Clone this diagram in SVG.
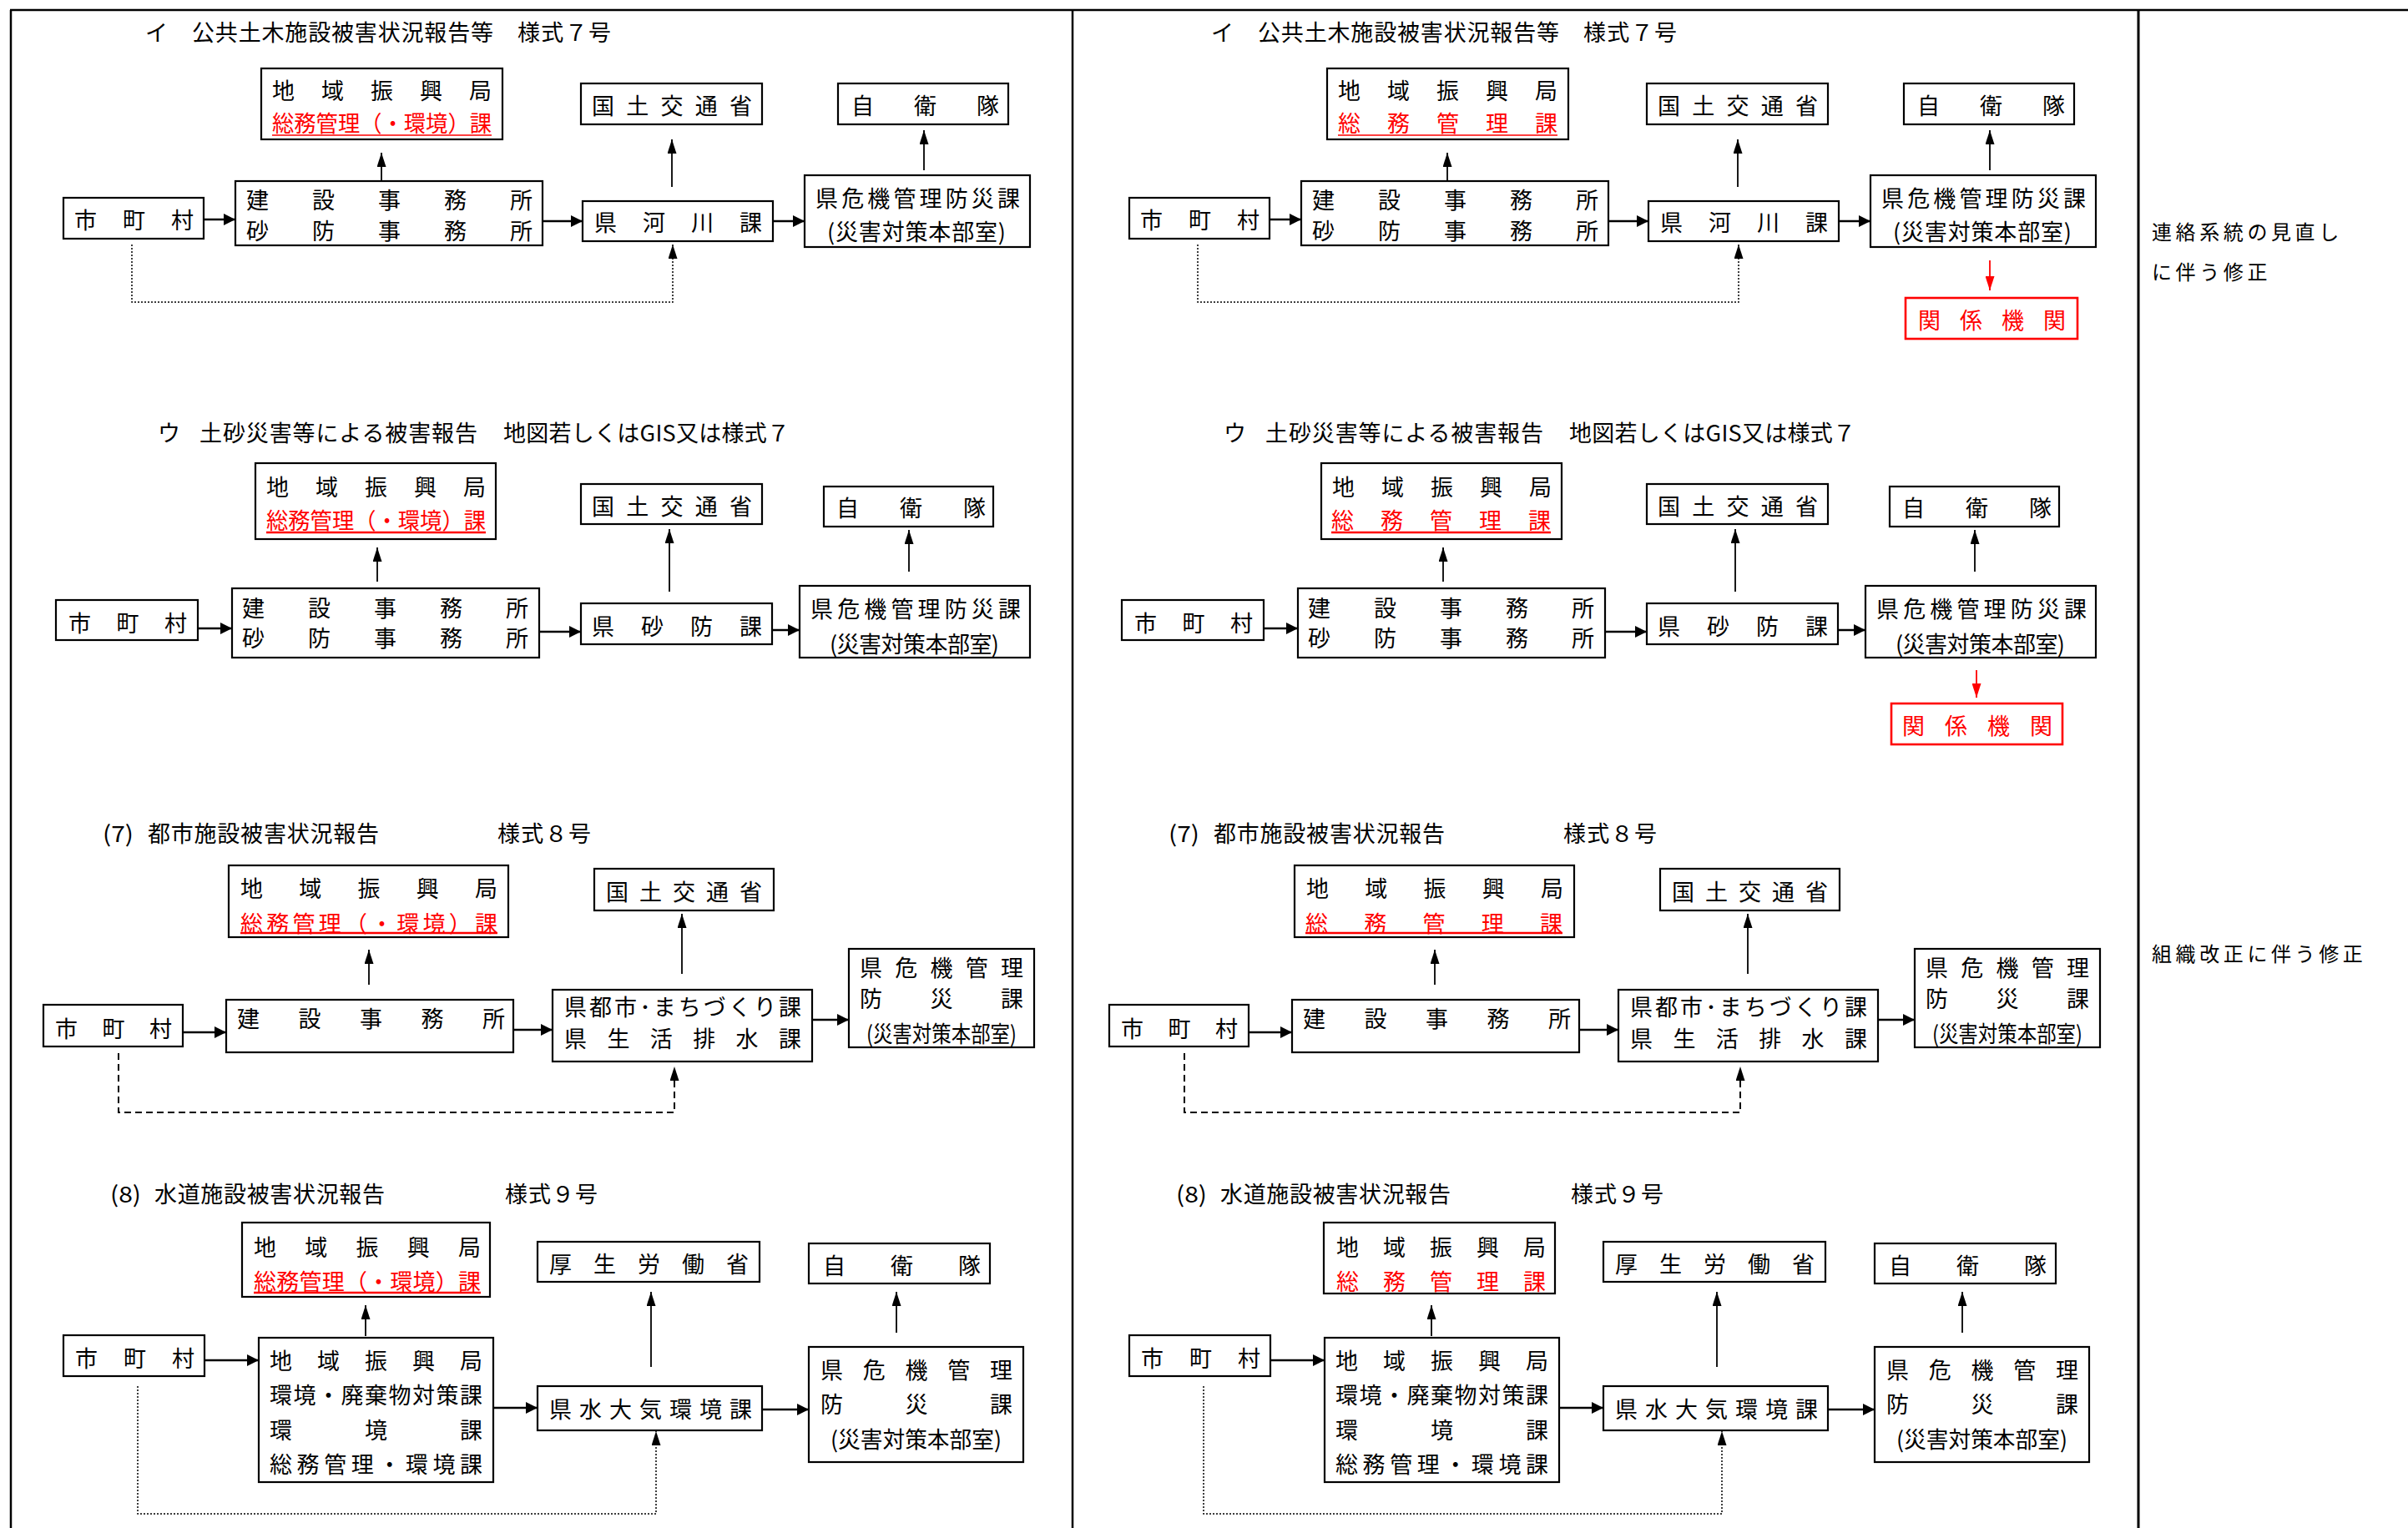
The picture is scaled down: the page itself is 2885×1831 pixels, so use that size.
<svg xmlns="http://www.w3.org/2000/svg" width="2885" height="1831" viewBox="0 0 2885 1831">
<style>
text{font-family:"Noto Sans CJK JP","Noto Sans CJK SC",sans-serif;font-size:27px;fill:#000;dominant-baseline:central}
.t{font-size:27px}
.n{font-size:24px;letter-spacing:4.6px}
.red{fill:#f00}
.box{fill:#fff;stroke:#000;stroke-width:2.2}
.rbox{fill:#fff;stroke:#f00;stroke-width:2.6}
.c{stroke:#000;stroke-width:1.8;fill:none}
.h{stroke-width:2.6}
.dot{stroke-dasharray:2 2;stroke-width:1.5}
.dash{stroke-dasharray:8 5;stroke-width:2}
.ul{stroke:#f00;stroke-width:2.5}
.ult{stroke:#f00;stroke-width:1.5}
.rc{stroke:#f00;stroke-width:1.8;fill:none}
.frame{stroke:#000;stroke-width:2.5;fill:none}
</style>
<defs>
<marker id="ah" viewBox="0 0 14 14" refX="14" refY="7" markerWidth="14" markerHeight="14" orient="auto" markerUnits="userSpaceOnUse"><path d="M0,0L14,7L0,14z" fill="#000"/></marker>
<marker id="av" viewBox="0 0 17 11" refX="17" refY="5.5" markerWidth="17" markerHeight="11" orient="auto" markerUnits="userSpaceOnUse"><path d="M0,0L17,5.5L0,11z" fill="#000"/></marker>
<marker id="ar" viewBox="0 0 17 11" refX="17" refY="5.5" markerWidth="17" markerHeight="11" orient="auto" markerUnits="userSpaceOnUse"><path d="M0,0L17,5.5L0,11z" fill="#f00"/></marker>
</defs>

<g id="frame">
<line class="frame" x1="12" y1="12" x2="2885" y2="12"/>
<line class="frame" x1="13" y1="12" x2="13" y2="1831"/>
<line class="frame" x1="1285" y1="12" x2="1285" y2="1831"/>
<line class="frame" x1="2562" y1="12" x2="2562" y2="1831" style="stroke-width:3"/>
</g>

<!-- LEFT PANEL -->
<g id="left">
<g id="L-titles">
<text class="t" x="174" y="37">イ</text><text class="t" x="230" y="37" textLength="361" lengthAdjust="spacing">公共土木施設被害状況報告等</text><text class="t" x="620" y="37" textLength="112" lengthAdjust="spacing">様式７号</text>
<text class="t" x="189" y="517">ウ</text><text class="t" x="239" y="517" textLength="333" lengthAdjust="spacing">土砂災害等による被害報告</text><text class="t" x="603" y="517" textLength="343" lengthAdjust="spacing">地図若しくはGIS又は様式７</text>
<text class="t" x="123" y="997" textLength="37" lengthAdjust="spacingAndGlyphs">(7)</text><text class="t" x="177" y="997" textLength="277" lengthAdjust="spacing">都市施設被害状況報告</text><text class="t" x="596" y="997" textLength="112" lengthAdjust="spacing">様式８号</text>
<text class="t" x="132" y="1429" textLength="37" lengthAdjust="spacingAndGlyphs">(8)</text><text class="t" x="185" y="1429" textLength="276" lengthAdjust="spacing">水道施設被害状況報告</text><text class="t" x="605" y="1429" textLength="111" lengthAdjust="spacing">様式９号</text>
</g>

<!-- イ -->
<g id="L-i-chiiki"><rect class="box" x="313" y="82" width="289" height="85"/><text x="326" y="107" textLength="263" lengthAdjust="spacing">地域振興局</text><text class="red" x="326" y="146" textLength="263" lengthAdjust="spacingAndGlyphs">総務管理（・環境）課</text><line class="ult" x1="326" y1="162" x2="589" y2="162"/></g>
<g id="L-i-kokudo"><rect class="box" x="696" y="100" width="217" height="49"/><text x="709" y="125" textLength="192" lengthAdjust="spacing">国土交通省</text></g>
<g id="L-i-jieitai"><rect class="box" x="1004" y="100" width="204" height="49"/><text x="1020" y="125" textLength="177" lengthAdjust="spacing">自衛隊</text></g>
<g id="L-i-shichoson"><rect class="box" x="76" y="237" width="168" height="49"/><text x="89" y="262" textLength="143" lengthAdjust="spacing">市町村</text></g>
<g id="L-i-kensetsu"><rect class="box" x="282" y="217" width="368" height="77"/><text x="295" y="238" textLength="343" lengthAdjust="spacing">建設事務所</text><text x="295" y="275" textLength="343" lengthAdjust="spacing">砂防事務所</text></g>
<g id="L-i-kasen"><rect class="box" x="698" y="241" width="228" height="48"/><text x="712" y="265" textLength="201" lengthAdjust="spacing">県河川課</text></g>
<g id="L-i-kiki"><rect class="box" x="964" y="210" width="270" height="86"/><text x="977" y="236" textLength="245" lengthAdjust="spacing">県危機管理防災課</text><text x="991" y="276" textLength="214" lengthAdjust="spacing">(災害対策本部室)</text></g>

<!-- ウ -->
<g id="L-u-chiiki"><rect class="box" x="306" y="555" width="288" height="91"/><text x="319" y="582" textLength="263" lengthAdjust="spacing">地域振興局</text><text class="red" x="319" y="622" textLength="263" lengthAdjust="spacingAndGlyphs">総務管理（・環境）課</text><line class="ul" x1="319" y1="638" x2="582" y2="638"/></g>
<g id="L-u-kokudo"><rect class="box" x="696" y="580" width="217" height="48"/><text x="709" y="605" textLength="192" lengthAdjust="spacing">国土交通省</text></g>
<g id="L-u-jieitai"><rect class="box" x="987" y="583" width="203" height="48"/><text x="1002" y="607" textLength="179" lengthAdjust="spacing">自衛隊</text></g>
<g id="L-u-shichoson"><rect class="box" x="67" y="719" width="170" height="48"/><text x="82" y="745" textLength="142" lengthAdjust="spacing">市町村</text></g>
<g id="L-u-kensetsu"><rect class="box" x="278" y="705" width="368" height="83"/><text x="290" y="727" textLength="343" lengthAdjust="spacing">建設事務所</text><text x="290" y="763" textLength="343" lengthAdjust="spacing">砂防事務所</text></g>
<g id="L-u-sabo"><rect class="box" x="696" y="723" width="229" height="49"/><text x="709" y="749" textLength="204" lengthAdjust="spacing">県砂防課</text></g>
<g id="L-u-kiki"><rect class="box" x="958" y="702" width="276" height="86"/><text x="971" y="728" textLength="252" lengthAdjust="spacing">県危機管理防災課</text><text x="994" y="770" textLength="203" lengthAdjust="spacing">(災害対策本部室)</text></g>

<!-- (7) -->
<g id="L-7-chiiki"><rect class="box" x="274" y="1037" width="335" height="86"/><text x="288" y="1063" textLength="308" lengthAdjust="spacing">地域振興局</text><text class="red" x="288" y="1105" textLength="308" lengthAdjust="spacing">総務管理（・環境）課</text><line class="ul" x1="288" y1="1118" x2="596" y2="1118"/></g>
<g id="L-7-kokudo"><rect class="box" x="712" y="1041" width="215" height="50"/><text x="726" y="1067" textLength="187" lengthAdjust="spacing">国土交通省</text></g>
<g id="L-7-shichoson"><rect class="box" x="52" y="1204" width="167" height="50"/><text x="66" y="1231" textLength="140" lengthAdjust="spacing">市町村</text></g>
<g id="L-7-kensetsu"><rect class="box" x="271" y="1198" width="344" height="63"/><text x="284" y="1219" textLength="321" lengthAdjust="spacing">建設事務所</text></g>
<g id="L-7-toshi"><rect class="box" x="662" y="1186" width="311" height="86"/><text x="676" y="1205" textLength="284" lengthAdjust="spacing">県都市･まちづくり課</text><text x="676" y="1243" textLength="284" lengthAdjust="spacing">県生活排水課</text></g>
<g id="L-7-kiki"><rect class="box" x="1017" y="1137" width="222" height="118"/><text x="1030" y="1158" textLength="196" lengthAdjust="spacing">県危機管理</text><text x="1030" y="1195" textLength="196" lengthAdjust="spacing">防災課</text><text x="1038" y="1237" textLength="180" lengthAdjust="spacingAndGlyphs">(災害対策本部室)</text></g>

<!-- (8) -->
<g id="L-8-chiiki"><rect class="box" x="290" y="1465" width="297" height="89"/><text x="304" y="1493" textLength="272" lengthAdjust="spacing">地域振興局</text><text class="red" x="304" y="1534" textLength="272" lengthAdjust="spacing">総務管理（・環境）課</text><line class="ul" x1="304" y1="1549" x2="576" y2="1549"/></g>
<g id="L-8-kosei"><rect class="box" x="644" y="1488" width="266" height="48"/><text x="658" y="1513" textLength="239" lengthAdjust="spacing">厚生労働省</text></g>
<g id="L-8-jieitai"><rect class="box" x="969" y="1490" width="217" height="48"/><text x="986" y="1515" textLength="189" lengthAdjust="spacing">自衛隊</text></g>
<g id="L-8-shichoson"><rect class="box" x="76" y="1600" width="169" height="49"/><text x="90" y="1626" textLength="143" lengthAdjust="spacing">市町村</text></g>
<g id="L-8-chiiki2"><rect class="box" x="310" y="1603" width="281" height="173"/><text x="323" y="1629" textLength="255" lengthAdjust="spacing">地域振興局</text><text x="323" y="1670" textLength="255" lengthAdjust="spacing">環境・廃棄物対策課</text><text x="323" y="1712" textLength="255" lengthAdjust="spacing">環境課</text><text x="323" y="1753" textLength="255" lengthAdjust="spacing">総務管理・環境課</text></g>
<g id="L-8-suitai"><rect class="box" x="644" y="1661" width="269" height="53"/><text x="658" y="1687" textLength="243" lengthAdjust="spacing">県水大気環境課</text></g>
<g id="L-8-kiki"><rect class="box" x="969" y="1614" width="257" height="138"/><text x="983" y="1640" textLength="230" lengthAdjust="spacing">県危機管理</text><text x="983" y="1681" textLength="230" lengthAdjust="spacing">防災課</text><text x="995" y="1723" textLength="205" lengthAdjust="spacingAndGlyphs">(災害対策本部室)</text></g>

<g id="L-connectors">
<line class="c h" x1="244" y1="263" x2="282" y2="263" marker-end="url(#ah)"/>
<line class="c h" x1="650" y1="265" x2="698" y2="265" marker-end="url(#ah)"/>
<line class="c h" x1="926" y1="265" x2="964" y2="265" marker-end="url(#ah)"/>
<line class="c" x1="457" y1="217" x2="457" y2="183" marker-end="url(#av)"/>
<line class="c" x1="805" y1="224" x2="805" y2="167" marker-end="url(#av)"/>
<line class="c" x1="1107" y1="204" x2="1107" y2="156" marker-end="url(#av)"/>
<path class="c dot" d="M158,293V362H806V293" marker-end="url(#av)"/>

<line class="c h" x1="237" y1="753" x2="278" y2="753" marker-end="url(#ah)"/>
<line class="c h" x1="646" y1="757" x2="696" y2="757" marker-end="url(#ah)"/>
<line class="c h" x1="925" y1="755" x2="958" y2="755" marker-end="url(#ah)"/>
<line class="c" x1="452" y1="697" x2="452" y2="656" marker-end="url(#av)"/>
<line class="c" x1="802" y1="709" x2="802" y2="634" marker-end="url(#av)"/>
<line class="c" x1="1089" y1="685" x2="1089" y2="635" marker-end="url(#av)"/>

<line class="c h" x1="219" y1="1237" x2="271" y2="1237" marker-end="url(#ah)"/>
<line class="c h" x1="615" y1="1234" x2="662" y2="1234" marker-end="url(#ah)"/>
<line class="c h" x1="973" y1="1222" x2="1017" y2="1222" marker-end="url(#ah)"/>
<line class="c" x1="442" y1="1180" x2="442" y2="1138" marker-end="url(#av)"/>
<line class="c" x1="817" y1="1167" x2="817" y2="1095" marker-end="url(#av)"/>
<path class="c dash" d="M142,1262V1333H808V1278" marker-end="url(#av)"/>

<line class="c h" x1="245" y1="1630" x2="310" y2="1630" marker-end="url(#ah)"/>
<line class="c h" x1="591" y1="1687" x2="644" y2="1687" marker-end="url(#ah)"/>
<line class="c h" x1="913" y1="1689" x2="969" y2="1689" marker-end="url(#ah)"/>
<line class="c" x1="438" y1="1601" x2="438" y2="1564" marker-end="url(#av)"/>
<line class="c" x1="780" y1="1638" x2="780" y2="1548" marker-end="url(#av)"/>
<line class="c" x1="1074" y1="1597" x2="1074" y2="1548" marker-end="url(#av)"/>
<path class="c dot" d="M165,1661V1814H786V1715" marker-end="url(#av)"/>
</g>
</g>

<!-- RIGHT PANEL -->
<g id="right" transform="translate(1277,0)">
<g id="R-titles">
<text class="t" x="174" y="37">イ</text><text class="t" x="230" y="37" textLength="361" lengthAdjust="spacing">公共土木施設被害状況報告等</text><text class="t" x="620" y="37" textLength="112" lengthAdjust="spacing">様式７号</text>
<text class="t" x="189" y="517">ウ</text><text class="t" x="239" y="517" textLength="333" lengthAdjust="spacing">土砂災害等による被害報告</text><text class="t" x="603" y="517" textLength="343" lengthAdjust="spacing">地図若しくはGIS又は様式７</text>
<text class="t" x="123" y="997" textLength="37" lengthAdjust="spacingAndGlyphs">(7)</text><text class="t" x="177" y="997" textLength="277" lengthAdjust="spacing">都市施設被害状況報告</text><text class="t" x="596" y="997" textLength="112" lengthAdjust="spacing">様式８号</text>
<text class="t" x="132" y="1429" textLength="37" lengthAdjust="spacingAndGlyphs">(8)</text><text class="t" x="185" y="1429" textLength="276" lengthAdjust="spacing">水道施設被害状況報告</text><text class="t" x="605" y="1429" textLength="111" lengthAdjust="spacing">様式９号</text>
</g>

<!-- イ -->
<g id="R-i-chiiki"><rect class="box" x="313" y="82" width="289" height="85"/><text x="326" y="107" textLength="263" lengthAdjust="spacing">地域振興局</text><text class="red" x="326" y="146" textLength="263" lengthAdjust="spacing">総務管理課</text><line class="ult" x1="326" y1="162" x2="589" y2="162"/></g>
<g id="R-i-kokudo"><rect class="box" x="696" y="100" width="217" height="49"/><text x="709" y="125" textLength="192" lengthAdjust="spacing">国土交通省</text></g>
<g id="R-i-jieitai"><rect class="box" x="1004" y="100" width="204" height="49"/><text x="1020" y="125" textLength="177" lengthAdjust="spacing">自衛隊</text></g>
<g id="R-i-shichoson"><rect class="box" x="76" y="237" width="168" height="49"/><text x="89" y="262" textLength="143" lengthAdjust="spacing">市町村</text></g>
<g id="R-i-kensetsu"><rect class="box" x="282" y="217" width="368" height="77"/><text x="295" y="238" textLength="343" lengthAdjust="spacing">建設事務所</text><text x="295" y="275" textLength="343" lengthAdjust="spacing">砂防事務所</text></g>
<g id="R-i-kasen"><rect class="box" x="698" y="241" width="228" height="48"/><text x="712" y="265" textLength="201" lengthAdjust="spacing">県河川課</text></g>
<g id="R-i-kiki"><rect class="box" x="964" y="210" width="270" height="86"/><text x="977" y="236" textLength="245" lengthAdjust="spacing">県危機管理防災課</text><text x="991" y="276" textLength="214" lengthAdjust="spacing">(災害対策本部室)</text></g>
<g id="R-i-kankei"><rect class="rbox" x="1006" y="357" width="206" height="49"/><text class="red" x="1021" y="382" textLength="177" lengthAdjust="spacing">関係機関</text></g>

<!-- ウ -->
<g id="R-u-chiiki"><rect class="box" x="306" y="555" width="288" height="91"/><text x="319" y="582" textLength="263" lengthAdjust="spacing">地域振興局</text><text class="red" x="318" y="622" textLength="263" lengthAdjust="spacing">総務管理課</text><line class="ul" x1="318" y1="638" x2="581" y2="638"/></g>
<g id="R-u-kokudo"><rect class="box" x="696" y="580" width="217" height="48"/><text x="709" y="605" textLength="192" lengthAdjust="spacing">国土交通省</text></g>
<g id="R-u-jieitai"><rect class="box" x="987" y="583" width="203" height="48"/><text x="1002" y="607" textLength="179" lengthAdjust="spacing">自衛隊</text></g>
<g id="R-u-shichoson"><rect class="box" x="67" y="719" width="170" height="48"/><text x="82" y="745" textLength="142" lengthAdjust="spacing">市町村</text></g>
<g id="R-u-kensetsu"><rect class="box" x="278" y="705" width="368" height="83"/><text x="290" y="727" textLength="343" lengthAdjust="spacing">建設事務所</text><text x="290" y="763" textLength="343" lengthAdjust="spacing">砂防事務所</text></g>
<g id="R-u-sabo"><rect class="box" x="696" y="723" width="229" height="49"/><text x="709" y="749" textLength="204" lengthAdjust="spacing">県砂防課</text></g>
<g id="R-u-kiki"><rect class="box" x="958" y="702" width="276" height="86"/><text x="971" y="728" textLength="252" lengthAdjust="spacing">県危機管理防災課</text><text x="994" y="770" textLength="203" lengthAdjust="spacing">(災害対策本部室)</text></g>
<g id="R-u-kankei"><rect class="rbox" x="989" y="843" width="205" height="49"/><text class="red" x="1002" y="868" textLength="180" lengthAdjust="spacing">関係機関</text></g>

<!-- (7) -->
<g id="R-7-chiiki"><rect class="box" x="274" y="1037" width="335" height="86"/><text x="288" y="1063" textLength="308" lengthAdjust="spacing">地域振興局</text><text class="red" x="287" y="1105" textLength="308" lengthAdjust="spacing">総務管理課</text><line class="ul" x1="287" y1="1118" x2="595" y2="1118"/></g>
<g id="R-7-kokudo"><rect class="box" x="712" y="1041" width="215" height="50"/><text x="726" y="1067" textLength="187" lengthAdjust="spacing">国土交通省</text></g>
<g id="R-7-shichoson"><rect class="box" x="52" y="1204" width="167" height="50"/><text x="66" y="1231" textLength="140" lengthAdjust="spacing">市町村</text></g>
<g id="R-7-kensetsu"><rect class="box" x="271" y="1198" width="344" height="63"/><text x="284" y="1219" textLength="321" lengthAdjust="spacing">建設事務所</text></g>
<g id="R-7-toshi"><rect class="box" x="662" y="1186" width="311" height="86"/><text x="676" y="1205" textLength="284" lengthAdjust="spacing">県都市･まちづくり課</text><text x="676" y="1243" textLength="284" lengthAdjust="spacing">県生活排水課</text></g>
<g id="R-7-kiki"><rect class="box" x="1017" y="1137" width="222" height="118"/><text x="1030" y="1158" textLength="196" lengthAdjust="spacing">県危機管理</text><text x="1030" y="1195" textLength="196" lengthAdjust="spacing">防災課</text><text x="1038" y="1237" textLength="180" lengthAdjust="spacingAndGlyphs">(災害対策本部室)</text></g>

<!-- (8) -->
<g id="R-8-chiiki"><rect class="box" x="309" y="1465" width="277" height="85"/><text x="324" y="1493" textLength="251" lengthAdjust="spacing">地域振興局</text><text class="red" x="324" y="1534" textLength="251" lengthAdjust="spacing">総務管理課</text></g>
<g id="R-8-kosei"><rect class="box" x="644" y="1488" width="266" height="48"/><text x="658" y="1513" textLength="239" lengthAdjust="spacing">厚生労働省</text></g>
<g id="R-8-jieitai"><rect class="box" x="969" y="1490" width="217" height="48"/><text x="986" y="1515" textLength="189" lengthAdjust="spacing">自衛隊</text></g>
<g id="R-8-shichoson"><rect class="box" x="76" y="1600" width="169" height="49"/><text x="90" y="1626" textLength="143" lengthAdjust="spacing">市町村</text></g>
<g id="R-8-chiiki2"><rect class="box" x="310" y="1603" width="281" height="173"/><text x="323" y="1629" textLength="255" lengthAdjust="spacing">地域振興局</text><text x="323" y="1670" textLength="255" lengthAdjust="spacing">環境・廃棄物対策課</text><text x="323" y="1712" textLength="255" lengthAdjust="spacing">環境課</text><text x="323" y="1753" textLength="255" lengthAdjust="spacing">総務管理・環境課</text></g>
<g id="R-8-suitai"><rect class="box" x="644" y="1661" width="269" height="53"/><text x="658" y="1687" textLength="243" lengthAdjust="spacing">県水大気環境課</text></g>
<g id="R-8-kiki"><rect class="box" x="969" y="1614" width="257" height="138"/><text x="983" y="1640" textLength="230" lengthAdjust="spacing">県危機管理</text><text x="983" y="1681" textLength="230" lengthAdjust="spacing">防災課</text><text x="995" y="1723" textLength="205" lengthAdjust="spacingAndGlyphs">(災害対策本部室)</text></g>

<g id="R-connectors">
<line class="c h" x1="244" y1="263" x2="282" y2="263" marker-end="url(#ah)"/>
<line class="c h" x1="650" y1="265" x2="698" y2="265" marker-end="url(#ah)"/>
<line class="c h" x1="926" y1="265" x2="964" y2="265" marker-end="url(#ah)"/>
<line class="c" x1="457" y1="217" x2="457" y2="183" marker-end="url(#av)"/>
<line class="c" x1="805" y1="224" x2="805" y2="167" marker-end="url(#av)"/>
<line class="c" x1="1107" y1="204" x2="1107" y2="156" marker-end="url(#av)"/>
<path class="c dot" d="M158,293V362H806V293" marker-end="url(#av)"/>
<line class="rc" x1="1107" y1="312" x2="1107" y2="348" marker-end="url(#ar)"/>

<line class="c h" x1="237" y1="753" x2="278" y2="753" marker-end="url(#ah)"/>
<line class="c h" x1="646" y1="757" x2="696" y2="757" marker-end="url(#ah)"/>
<line class="c h" x1="925" y1="755" x2="958" y2="755" marker-end="url(#ah)"/>
<line class="c" x1="452" y1="697" x2="452" y2="656" marker-end="url(#av)"/>
<line class="c" x1="802" y1="709" x2="802" y2="634" marker-end="url(#av)"/>
<line class="c" x1="1089" y1="685" x2="1089" y2="635" marker-end="url(#av)"/>
<line class="rc" x1="1091" y1="803" x2="1091" y2="836" marker-end="url(#ar)"/>

<line class="c h" x1="219" y1="1237" x2="271" y2="1237" marker-end="url(#ah)"/>
<line class="c h" x1="615" y1="1234" x2="662" y2="1234" marker-end="url(#ah)"/>
<line class="c h" x1="973" y1="1222" x2="1017" y2="1222" marker-end="url(#ah)"/>
<line class="c" x1="442" y1="1180" x2="442" y2="1138" marker-end="url(#av)"/>
<line class="c" x1="817" y1="1167" x2="817" y2="1095" marker-end="url(#av)"/>
<path class="c dash" d="M142,1262V1333H808V1278" marker-end="url(#av)"/>

<line class="c h" x1="245" y1="1630" x2="310" y2="1630" marker-end="url(#ah)"/>
<line class="c h" x1="591" y1="1687" x2="644" y2="1687" marker-end="url(#ah)"/>
<line class="c h" x1="913" y1="1689" x2="969" y2="1689" marker-end="url(#ah)"/>
<line class="c" x1="438" y1="1601" x2="438" y2="1564" marker-end="url(#av)"/>
<line class="c" x1="780" y1="1638" x2="780" y2="1548" marker-end="url(#av)"/>
<line class="c" x1="1074" y1="1597" x2="1074" y2="1548" marker-end="url(#av)"/>
<path class="c dot" d="M165,1661V1814H786V1715" marker-end="url(#av)"/>
</g>
</g>

<g id="notes">
<text class="n" x="2578" y="276">連絡系統の見直し</text>
<text class="n" x="2578" y="324">に伴う修正</text>
<text class="n" x="2578" y="1141">組織改正に伴う修正</text>
</g>
</svg>
